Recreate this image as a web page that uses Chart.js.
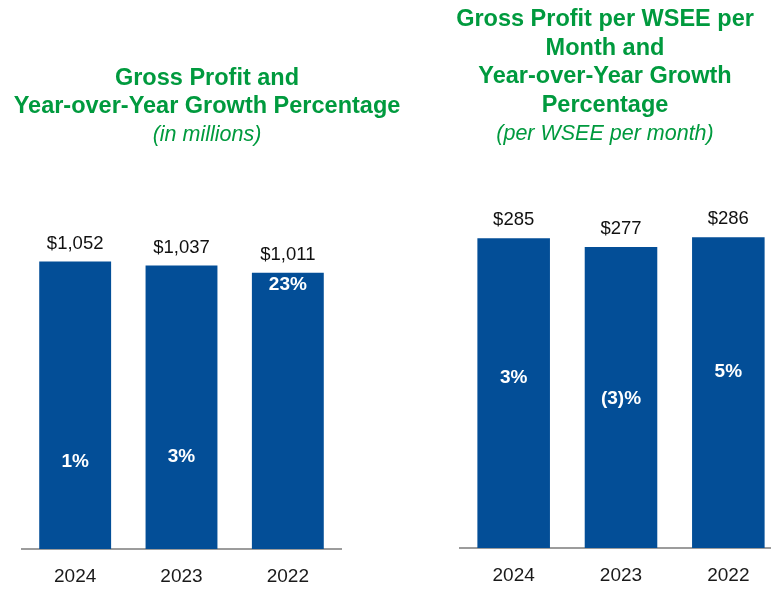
<!DOCTYPE html>
<html>
<head>
<meta charset="utf-8">
<script src="https://cdn.jsdelivr.net/npm/chart.js@4.4.1/dist/chart.umd.min.js"></script>
<style>
  html, body { margin: 0; padding: 0; background: #fff; overflow: hidden; }
  #page { position: relative; width: 771px; height: 589px; overflow: hidden; font-family: "Liberation Sans", Arial, sans-serif; }
  .title { position: absolute; text-align: center; color: #009a3e; font-weight: bold; font-size: 23.5px; white-space: nowrap; }
  .title i { font-weight: normal; font-size: 21.5px; }
  canvas { position: absolute; top: 0; }
</style>
</head>
<body>
<div id="page">
  <canvas id="gpChart" style="left:0px"></canvas>
  <canvas id="wseeChart" style="left:440px"></canvas>
  <div class="title" style="left:0; width:414px; top:63px; line-height:28px;">
    Gross Profit and<br>Year-over-Year Growth Percentage<br><i>(in millions)</i>
  </div>
  <div class="title" style="left:405px; width:400px; top:4px; line-height:28.5px;">
    Gross Profit per WSEE per<br>Month and<br>Year-over-Year Growth<br>Percentage<br><i>(per WSEE per month)</i>
  </div>
</div>

<script>
const years = ['2024', '2023', '2022'];

// Gross profit, $ millions
const grossProfit = [1052, 1037, 1011];
const grossProfitGrowth = ['1%', '3%', '23%'];

// Gross profit per WSEE per month, $
const gpPerWsee = [285, 277, 286];
const gpPerWseeGrowth = ['3%', '(3)%', '5%'];

const BAR_BLUE = '#034e97';
const FONT = "'Liberation Sans', Arial, sans-serif";

// draws the $ value above each bar and the growth % inside it
const barLabels = {
  id: 'barLabels',
  afterDatasetsDraw(chart, args, opts) {
    const { ctx } = chart;
    const meta = chart.getDatasetMeta(0);
    ctx.save();
    ctx.textAlign = 'center';
    ctx.textBaseline = 'middle';
    meta.data.forEach((bar, i) => {
      const v = chart.data.datasets[0].data[i];
      ctx.fillStyle = '#111';
      ctx.font = '18.5px ' + FONT;
      ctx.fillText('$' + v.toLocaleString('en-US'), bar.x, bar.y - 18);

      const h = bar.base - bar.y;
      ctx.fillStyle = '#fff';
      ctx.font = 'bold 19px ' + FONT;
      ctx.fillText(opts.growth[i], bar.x, bar.base - h * opts.at[i]);
    });
    ctx.restore();
  }
};

function makeChart(id, width, values, growth, at, yMax, pad) {
  const el = document.getElementById(id);
  el.width = width;
  el.height = 589;
  el.style.width = width + 'px';
  el.style.height = '589px';
  return new Chart(el, {
    type: 'bar',
    data: {
      labels: years,
      datasets: [{
        data: values,
        backgroundColor: BAR_BLUE,
        borderWidth: 0,
        categoryPercentage: 1,
        barPercentage: 0.676
      }]
    },
    options: {
      responsive: false,
      animation: false,
      layout: { padding: pad },
      scales: {
        x: {
          grid: { display: false, drawTicks: false },
          border: { display: true, color: '#9c9c9c', width: 2 },
          ticks: { color: '#1a1a1a', padding: 16, font: { size: 19, family: FONT } },
          afterFit: (s) => { s.height = 40; }
        },
        y: { display: false, min: 0, max: yMax }
      },
      plugins: {
        legend: { display: false },
        tooltip: { enabled: false },
        barLabels: { growth, at }
      }
    },
    plugins: [barLabels]
  });
}

makeChart('gpChart', 385, grossProfit, grossProfitGrowth, [0.302, 0.325, 0.955], 1200,
  { left: 22, right: 44, top: 221, bottom: 0 });
makeChart('wseeChart', 360, gpPerWsee, gpPerWseeGrowth, [0.549, 0.495, 0.566], 300,
  { left: 20, right: 18, top: 222, bottom: 1 });
</script>
</body>
</html>
